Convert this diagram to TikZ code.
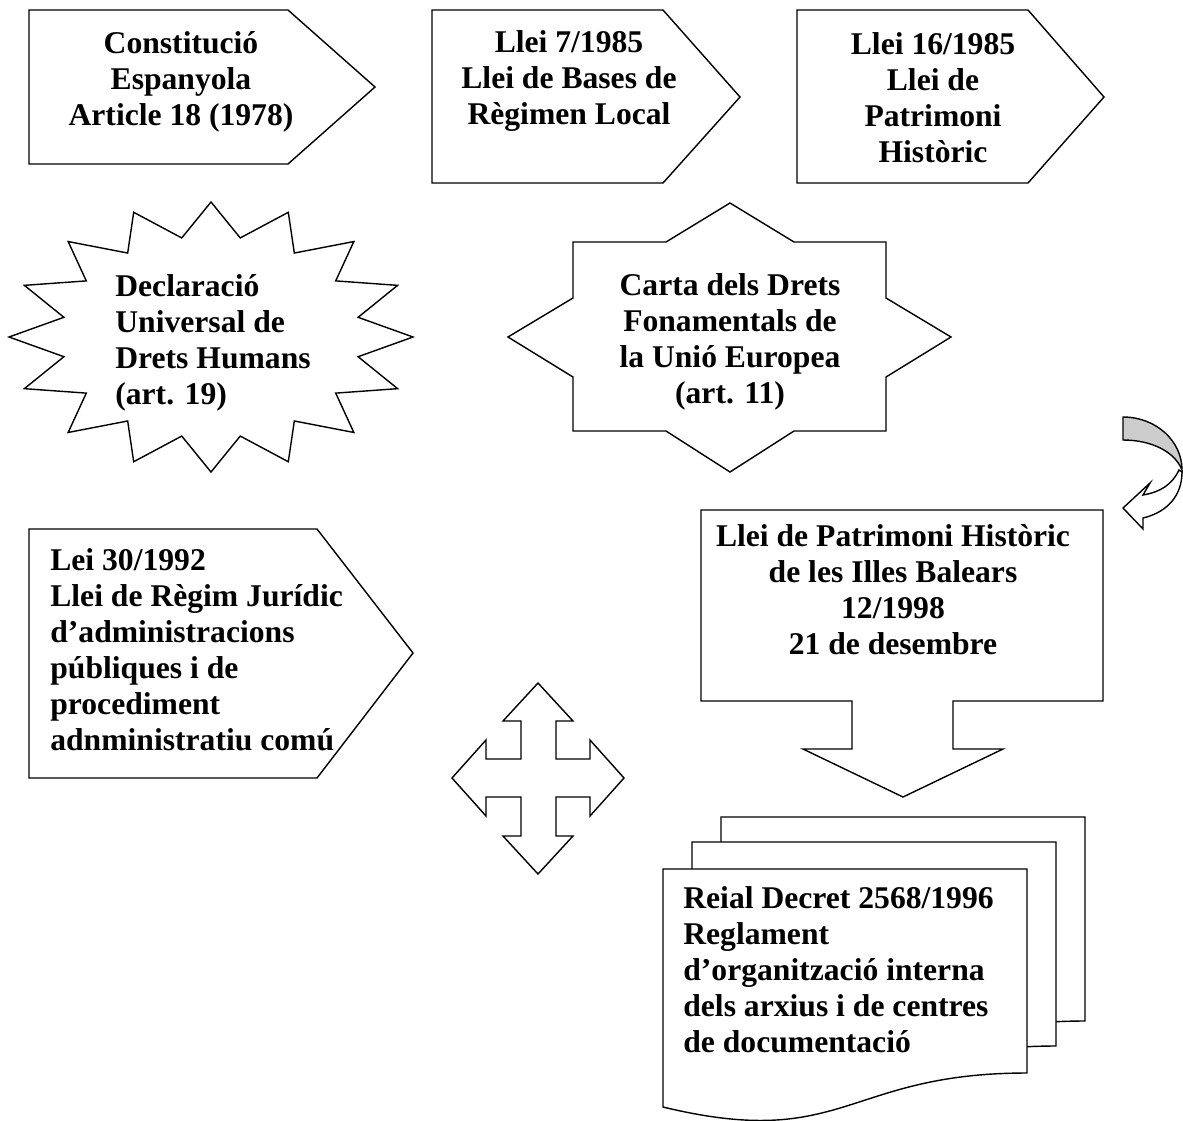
\documentclass[tikz,border=0pt]{standalone}
\usepackage{fontspec}
\setmainfont{Liberation Serif}
\tikzset{
  outl/.style={draw=black, line width=0.8pt, fill=white},
  txt/.style={font=\bfseries\fontsize{18}{20.5}\selectfont, inner sep=0pt, align=center},
  txtleft/.style={txt, align=left, anchor=west},
}
\begin{document}
\begin{tikzpicture}[x=0.02cm,y=-0.02cm]
    \useasboundingbox (0,0) rectangle (1183,1120);

    \draw[outl] (29,10) -- (288,10) -- (375,87) -- (288,164) -- (29,164) -- cycle;
    \draw[outl] (432,10) -- (663,10) -- (740,97) -- (663,183) -- (432,183) -- cycle;
    \draw[outl] (797,10) -- (1028,10) -- (1104,97) -- (1028,183) -- (797,183) -- cycle;
    \draw[outl] (29,529) -- (317,529) -- (413,653) -- (317,778) -- (29,778) -- cycle;

    \draw[outl] (413,337) \foreach \i in {0,...,15} {
        -- ({211+150*cos(\i*22.5+11.25)},{337-101*sin(\i*22.5+11.25)})
        -- ({211+202*cos(\i*22.5+22.5)},{337-135*sin(\i*22.5+22.5)}) } -- cycle;

    \draw[outl] (573,242) -- (666,242) -- (730,203) -- (794,242) -- (886,242) -- (886,298)
        -- (951,337) -- (886,377) -- (886,431) -- (794,431) -- (730,472) -- (666,431)
        -- (573,431) -- (573,377) -- (508,337) -- (573,298) -- cycle;

    \draw[outl] (538,683) -- (573,721) -- (556,721) -- (556,759) -- (590,759) -- (590,740)
        -- (624,778) -- (590,816) -- (590,797) -- (556,797) -- (556,836) -- (573,836)
        -- (538,874) -- (503,836) -- (521,836) -- (521,797) -- (486,797) -- (486,816)
        -- (452,778) -- (486,740) -- (486,759) -- (521,759) -- (521,721) -- (503,721) -- cycle;

    \draw[outl] (701,510) -- (1103,510) -- (1103,701) -- (953,701) -- (953,749) -- (1003,749)
        -- (903,797) -- (803,749) -- (852,749) -- (852,701) -- (701,701) -- cycle;

    \draw[outl, fill=gray!40] (1123,417) .. controls (1156,417) and (1182,441) .. (1182,470)
        .. controls (1175,452) and (1152,440) .. (1123,440) -- cycle;
    \draw[outl] (1179,470) .. controls (1172,485) and (1160,492) .. (1143,495) -- (1150,483)
        -- (1123,508) -- (1143,529) -- (1143,518) .. controls (1168,512) and (1182,495) .. (1182,472) -- cycle;

    \draw[outl] (721,817) -- (1085,817) -- (1085,1021) .. controls (903,1021) and (903,1099) .. (721,1055) -- cycle;
    \draw[outl] (692,842) -- (1056,842) -- (1056,1046) .. controls (874,1046) and (874,1124) .. (692,1080) -- cycle;
    \draw[outl] (663,869) -- (1027,869) -- (1027,1073) .. controls (845,1073) and (845,1151) .. (663,1107) -- cycle;

    \node[txt] (const) at (181,82) {Constitució\\Espanyola\\Article 18 (1978)};
    \node[txt] (bases) at (569,81) {Llei 7/1985\\Llei de Bases de\\Règimen Local};
    \node[txt] (patri) at (933,98) {Llei 16/1985\\Llei de\\Patrimoni\\Històric};
    \node[txtleft] (decl) at (115,343) {Declaració\\Universal de\\Drets Humans\\(art. 19)};
    \node[txt] (carta) at (730,342) {Carta dels Drets\\Fonamentals de\\la Unió Europea\\(art. 11)};
    \node[txtleft] (lei) at (50,650) {Lei 30/1992\\Llei de Règim Jurídic\\d’administracions\\públiques i de\\procediment\\adnministratiu comú};
    \node[txt] (balears) at (893,590) {Llei de Patrimoni Històric\\de les Illes Balears\\12/1998\\21 de desembre};
    \node[txtleft] (reial) at (683,970) {Reial Decret 2568/1996\\Reglament\\d’organització interna\\dels arxius i de centres\\de documentació};
\end{tikzpicture}
\end{document}
